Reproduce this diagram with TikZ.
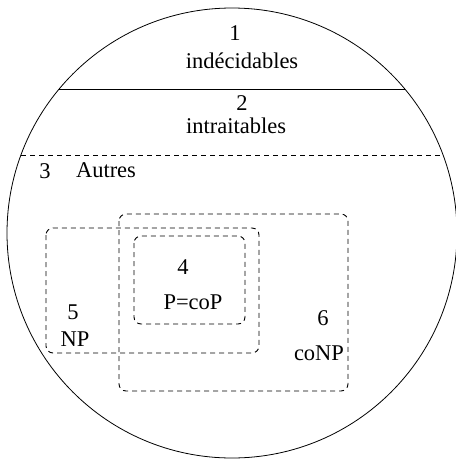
\documentclass[tikz,border=0pt]{standalone}
\usepackage{fontspec}
\setmainfont{Liberation Serif}
\begin{document}
\begin{tikzpicture}[x=1pt,y=-1pt,
  lbl/.style={inner sep=0pt,font=\fontsize{22.5}{27}\selectfont},
  dsh/.style={draw,line width=0.9pt,dash pattern=on 5pt off 4pt},
  cls/.style={dsh,rounded corners=7pt}]
\useasboundingbox (0,0) rectangle (456,459);
% outer universe of problems
\draw[line width=0.8pt] (232,233) circle (225);
% separating lines between the strata
\coordinate (s1) at (59,89);
\coordinate (s2) at (405,89);
\draw[line width=0.8pt] (s1) -- (s2);
\coordinate (d1) at (21,155);
\coordinate (d2) at (443,155);
\draw[dsh] (d1) -- (d2);
% complexity classes
\draw[cls] (46,228) rectangle (259,353);
\draw[cls] (119,214) rectangle (348,391);
\draw[cls] (134,236) rectangle (245,324);
% labels
\node[lbl] (n1) at (235,33) {1};
\node[lbl] (t1) at (242,61) {indécidables};
\node[lbl] (n2) at (242,103) {2};
\node[lbl] (t2) at (236,126) {intraitables};
\node[lbl] (n3) at (45,171) {3};
\node[lbl] (t3) at (106,170) {Autres};
\node[lbl] (n4) at (183,267) {4};
\node[lbl] (t4) at (193,302) {P=coP};
\node[lbl] (n5) at (73,312) {5};
\node[lbl] (t5) at (75,339) {NP};
\node[lbl] (n6) at (323,318) {6};
\node[lbl] (t6) at (319,353) {coNP};
\end{tikzpicture}
\end{document}
